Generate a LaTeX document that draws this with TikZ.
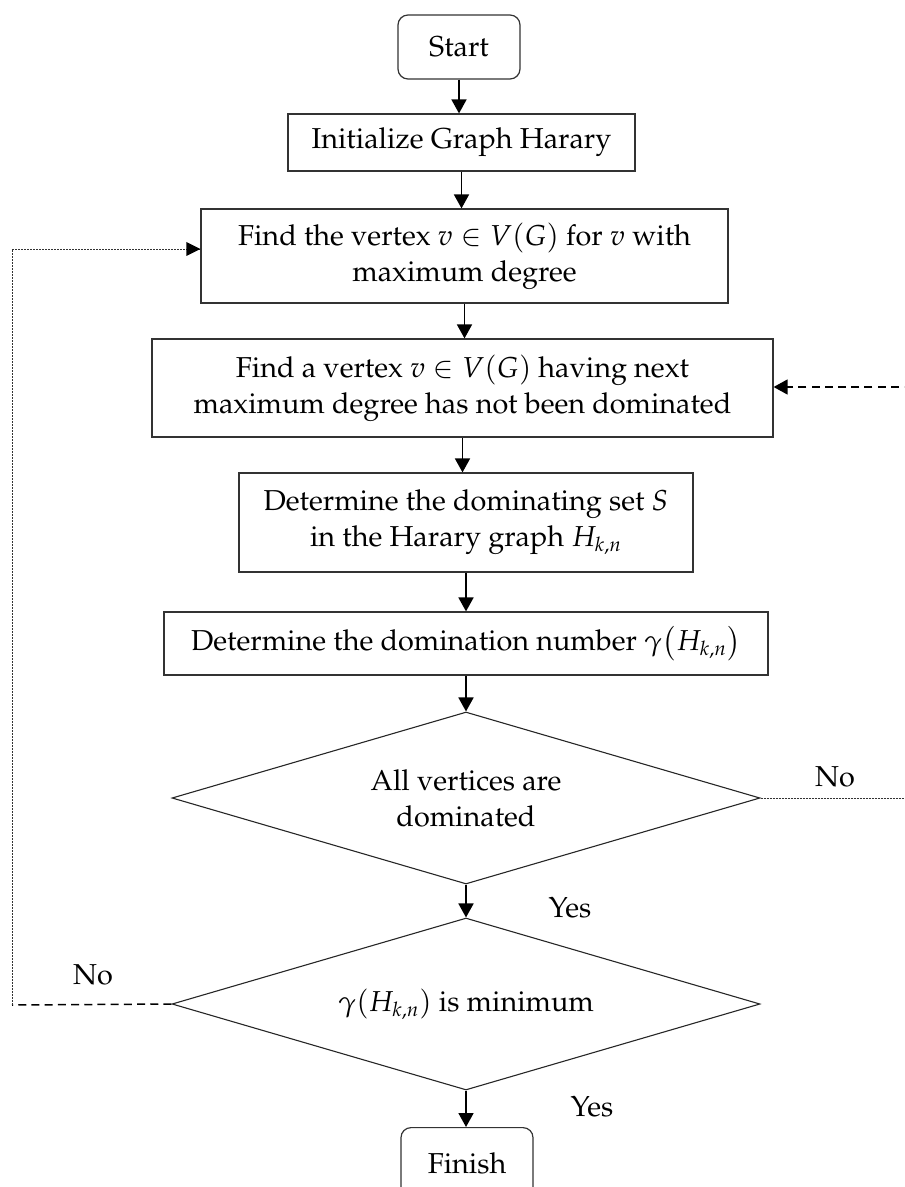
\documentclass[tikz,border=0pt]{standalone}
\usepackage[T1]{fontenc}
\usepackage{mathpazo}
\usetikzlibrary{arrows.meta,shapes.geometric}

\tikzset{
  txt/.style={font=\fontsize{14.4}{18}\selectfont},
  box/.style={txt, draw=black!80, line width=0.6pt, inner sep=0pt, align=center},
  terminal/.style={box, rounded corners=5pt},
  decision/.style={txt, draw=black!85, line width=0.55pt, shape=diamond, aspect=3.42,
    inner sep=0pt, align=center},
  flow/.style={line width=0.9pt, -{Triangle[length=7pt,width=7.5pt]}},
  dotline/.style={line width=0.45pt, black!80, dash pattern=on 1pt off 0.5pt},
  dashline/.style={line width=0.75pt, dash pattern=on 4pt off 2.6pt},
  lbl/.style={txt, inner sep=0pt}
}

\begin{document}
\begin{tikzpicture}[x=0.5pt, y=-0.5pt]
  \useasboundingbox (0,0) rectangle (904,1187);
  \clip (0,0) rectangle (904,1187);

  % process steps
  \node[terminal, minimum width=61pt, minimum height=32pt] (start) at (459,47) {Start};
  \node[box, minimum width=173.5pt, minimum height=28.5pt] (init) at (461.5,142.5)
    {Initialize Graph Harary};
  \node[box, minimum width=263.5pt, minimum height=47pt] (find1) at (464.5,256)
    {Find the vertex $v \in V(G)$ for $v$ with\\ maximum degree};
  \node[box, minimum width=310.5pt, minimum height=49pt] (find2) at (462.5,388)
    {Find a vertex $v \in V(G)$ having next\\ maximum degree has not been dominated};
  \node[box, minimum width=227pt, minimum height=49.5pt] (domset) at (466,522.5)
    {Determine the dominating set $S$\\ in the Harary graph $H_{k,n}$};
  \node[box, minimum width=302pt, minimum height=31.5pt] (domnum) at (466,643.5)
    {Determine the domination number $\gamma\bigl(H_{k,n}\bigr)$};

  % decisions
  \node[decision, minimum width=294pt, minimum height=86pt] (alldom) at (466,798)
    {All vertices are\\ dominated};
  \node[decision, minimum width=294pt, minimum height=86pt] (ismin) at (466,1004)
    {$\gamma(H_{k,n})$ is minimum};

  % end terminal runs past the lower edge of the page
  \node[terminal, minimum width=66pt, minimum height=38pt, text depth=0pt,
        anchor=north, inner ysep=0pt] (finish) at (467,1127)
    {\raisebox{2.5pt}{Finish}};

  % main flow
  \draw[flow] (start) -- (start |- init.north);
  \draw[flow] (init) -- (init |- find1.north);
  \draw[flow] (find1) -- (find1 |- find2.north);
  \draw[flow] (find2) -- (find2 |- domset.north);
  \draw[flow] (domset) -- (domset |- domnum.north);
  \draw[flow] (domnum) -- (domnum |- alldom.north);
  \draw[flow] (alldom.south) -- (ismin.north);
  \draw[flow] (ismin.south) -- (ismin.south |- finish.north);

  % loop back when the domination number is not minimum
  \coordinate (lc1) at (12,1005);
  \coordinate (lc2) at (12,249);
  \draw[dashline] (ismin.west) -- (lc1);
  \draw[dotline] (lc1) -- (lc2) -- (find1.west |- lc2);
  \fill (find1.west |- lc2) -- ++(-14,-7) -- ++(0,14) -- cycle;

  % loop back when some vertices are not dominated
  \coordinate (rc1) at (912,798);
  \coordinate (rc2) at (912,387);
  \draw[dotline] (alldom.east) -- (rc1) -- (rc2);
  \draw[dashline, -{Triangle[length=7pt,width=7.5pt]}] (rc2) -- (find2.east |- rc2);

  % branch labels
  \node[lbl] (no1) at (835,777) {No};
  \node[lbl] (yes1) at (570,908) {Yes};
  \node[lbl] (no2) at (93,975) {No};
  \node[lbl] (yes2) at (592,1107) {Yes};
\end{tikzpicture}
\end{document}
